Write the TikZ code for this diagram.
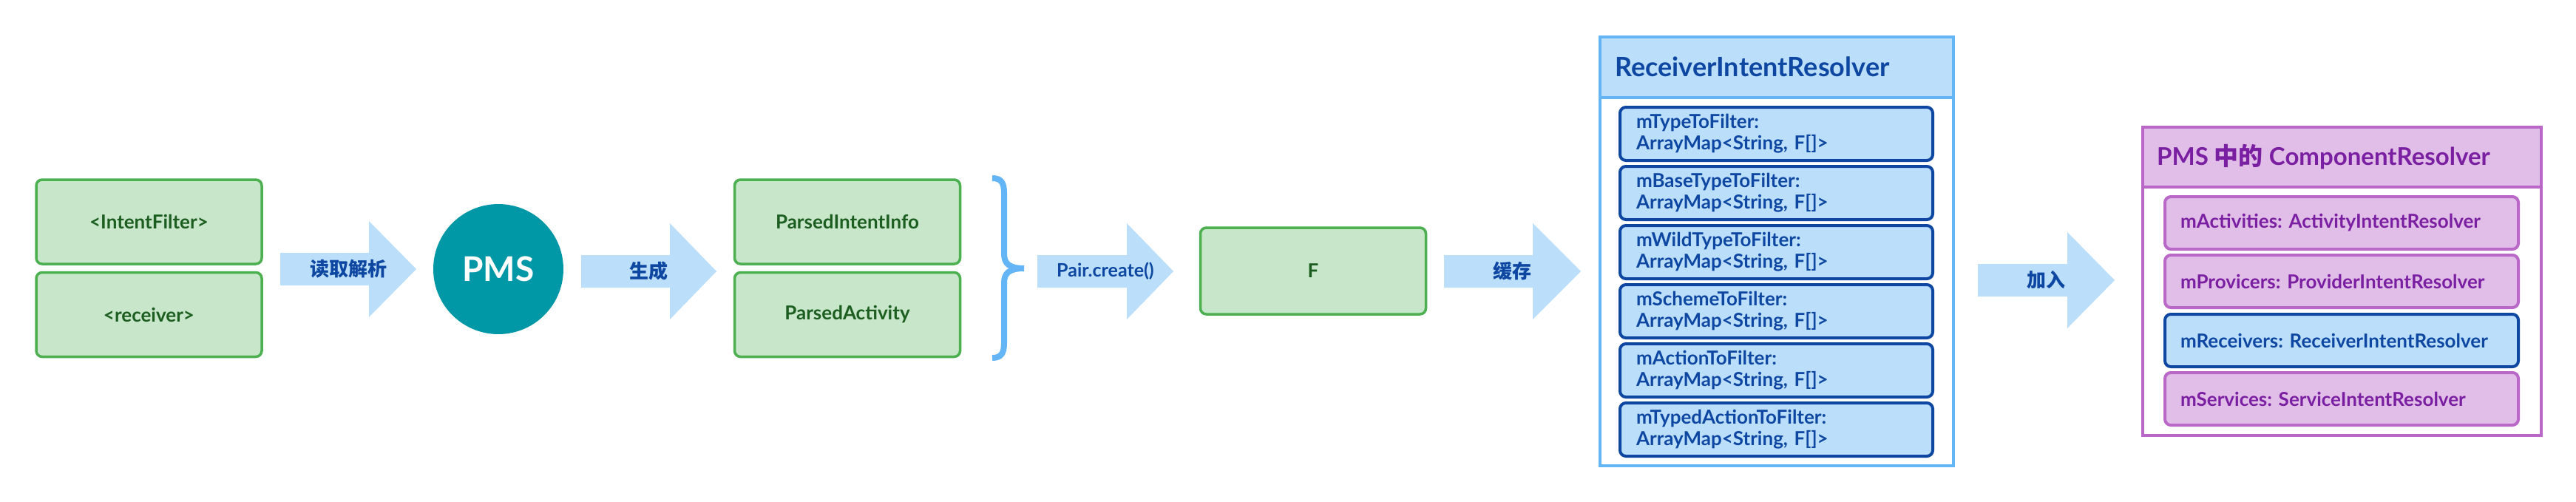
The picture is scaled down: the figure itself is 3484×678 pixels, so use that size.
\documentclass[tikz,border=0pt]{standalone}
\usepackage{fontspec}
\setmainfont{Lato}
\newfontfamily\cjk{Noto Sans CJK SC}
\frenchspacing
\definecolor{gfill}{HTML}{C8E6C9}
\definecolor{gdraw}{HTML}{4CAF50}
\definecolor{gtext}{HTML}{1B5E20}
\definecolor{bfill}{HTML}{BBDEFB}
\definecolor{bdraw}{HTML}{0D47A1}
\definecolor{bline}{HTML}{64B5F6}
\definecolor{pmsteal}{HTML}{0097A7}
\definecolor{pfill}{HTML}{E1BEE7}
\definecolor{pdraw}{HTML}{BA68C8}
\definecolor{ptext}{HTML}{7B1FA2}
\newcommand{\blockarrow}[6]{%
  \fill[bfill] (#2,#5-22) -- (#3,#5-22) -- (#3,#5-65) -- (#4,#5) -- (#3,#5+65) -- (#3,#5+22) -- (#2,#5+22) -- cycle;
  \node[alabel] (#1) at ({(#2+#4)/2},#5) {#6};}
\begin{document}
\begin{tikzpicture}[x=1pt,y=-1pt,
  gbox/.style={draw=gdraw, line width=3.5, fill=gfill, rounded corners=8, text=gtext,
    font=\bfseries\fontsize{26}{30}\selectfont, minimum width=305, minimum height=114, inner sep=0},
  alabel/.style={text=bdraw, font=\bfseries\fontsize{26}{30}\selectfont, inner sep=0},
  rfield/.style={draw=bdraw, line width=4, fill=bfill, rounded corners=8, text=bdraw,
    font=\bfseries\fontsize{26}{29}\selectfont, text width=379, align=left, inner xsep=22, inner ysep=0,
    minimum height=72, anchor=north west},
  pfield/.style={draw=pdraw, line width=4, fill=pfill, rounded corners=8, text=ptext,
    font=\bfseries\fontsize{26}{29}\selectfont, text width=436, align=left, inner xsep=21, inner ysep=0,
    minimum height=71, anchor=north west},
  frame/.style={line width=4, anchor=north west, inner sep=0},
  title/.style={anchor=west, inner sep=0, font=\bfseries\fontsize{36}{40}\selectfont}]
\useasboundingbox (0,0) rectangle (3484,678);
\fill[white] (0,0) rectangle (3484,678);

% left green boxes
\node[gbox] (intentfilter) at (201.5,300) {<IntentFilter>};
\node[gbox] (receiver) at (201.5,425.5) {<receiver>};

\blockarrow{a1}{379}{499}{563}{364}{\cjk 读取解析}

\node[circle, fill=pmsteal, minimum size=176, inner sep=0, text=white,
  font=\bfseries\fontsize{46}{46}\selectfont] (pms) at (674,364) {PMS};

\blockarrow{a2}{786}{906}{969}{367}{\cjk 生成}

\node[gbox] (pii) at (1146,300) {ParsedIntentInfo};
\node[gbox] (pa) at (1146,425.5) {ParsedActivity};

% brace
\coordinate (bt) at (1342,241);
\coordinate (btip) at (1385,363);
\coordinate (bb) at (1342,484);
\draw[bline, line width=8] (bt) .. controls (1354,241) and (1358,247) .. (1358,261) -- (1358,343)
  .. controls (1358,356) and (1364,363) .. (btip)
  .. controls (1364,363) and (1358,370) .. (1358,383) -- (1358,464)
  .. controls (1358,478) and (1354,484) .. (bb);

\blockarrow{a3}{1403}{1524}{1587}{367}{\fontsize{25}{30}\selectfont Pair.create()}

\node[gbox, minimum height=117] (f) at (1776,366.5) {F};

\blockarrow{a4}{1953}{2073}{2138}{367}{\cjk 缓存}

% ReceiverIntentResolver
\node[frame, draw=bline, fill=white, minimum width=478, minimum height=580] (rir) at (2162,48) {};
\node[frame, draw=bline, fill=bfill, minimum width=478, minimum height=82] (rirhead) at (2162,48) {};
\node[title, text=bdraw] (rirtitle) at (2184,90) {ReceiverIntentResolver};
\node[rfield] (r1) at (2189,143) {mTypeToFilter:\\ArrayMap<String, F[]>};
\node[rfield] (r2) at (2189,223) {mBaseTypeToFilter:\\ArrayMap<String, F[]>};
\node[rfield] (r3) at (2189,303) {mWildTypeToFilter:\\ArrayMap<String, F[]>};
\node[rfield] (r4) at (2189,383) {mSchemeToFilter:\\ArrayMap<String, F[]>};
\node[rfield] (r5) at (2189,463) {mActionToFilter:\\ArrayMap<String, F[]>};
\node[rfield] (r6) at (2189,543) {mTypedActionToFilter:\\ArrayMap<String, F[]>};

\blockarrow{a5}{2675}{2796}{2860}{379}{\cjk 加入}

% ComponentResolver
\node[frame, draw=pdraw, fill=white, minimum width=539, minimum height=417] (cr) at (2896,170) {};
\node[frame, draw=pdraw, fill=pfill, minimum width=539, minimum height=81] (crhead) at (2896,170) {};
\node[title, text=ptext, font=\bfseries\fontsize{33}{38}\selectfont] (crtitle) at (2917,212) {PMS {\cjk 中的} ComponentResolver};
\node[pfield] (p1) at (2926,264) {mActivities: ActivityIntentResolver};
\node[pfield] (p2) at (2926,343) {mProvicers: ProviderIntentResolver};
\node[pfield, draw=bdraw, fill=bfill, text=bdraw] (p3) at (2926,423) {mReceivers: ReceiverIntentResolver};
\node[pfield] (p4) at (2926,502) {mServices: ServiceIntentResolver};
\end{tikzpicture}
\end{document}
